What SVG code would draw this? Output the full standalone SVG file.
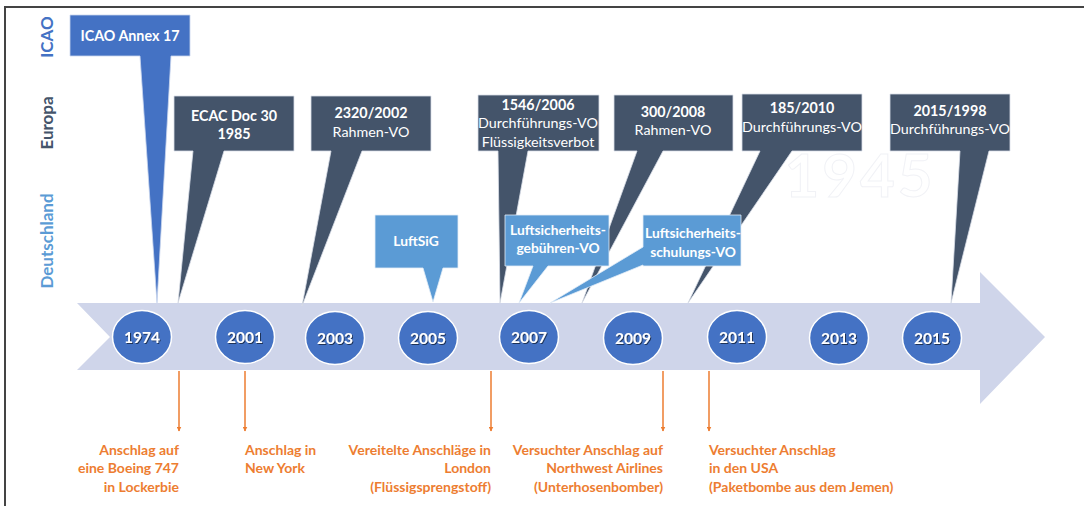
<svg xmlns="http://www.w3.org/2000/svg" width="1084" height="506" viewBox="0 0 1084 506">
<defs>
<style>
.f{font-family:Lato,"Open Sans","Liberation Sans",sans-serif}
.dark{fill:#44546A;stroke:#D9DEE8;stroke-width:0.8}
.icao{fill:#4472C4;stroke:#C9D6EE;stroke-width:0.8}
.light{fill:#5B9BD5;stroke:#E3EDF8;stroke-width:0.8}
.wt{fill:#fff;font-size:14.3px;text-anchor:middle}
.b{font-weight:700}
.lt{fill:#fff;font-size:13.8px;font-weight:700;text-anchor:middle}
.yr{fill:#fff;font-size:15.5px;font-weight:700;text-anchor:middle}
.circ{fill:#4472C4;stroke:#fff;stroke-width:1.5}
.or{fill:#ED7D31;font-size:14px;font-weight:700}
.con{stroke:#ED7D31;stroke-width:1.5;fill:none}
.side{font-size:17px;font-weight:700;text-anchor:middle}
</style>
<marker id="ah" viewBox="0 0 10 10" refX="9" refY="5" markerWidth="5" markerHeight="5" orient="auto" markerUnits="userSpaceOnUse">
<path d="M0,0 L10,5 L0,10 z" fill="#ED7D31"/>
</marker>
<filter id="sh" x="-20%" y="-20%" width="140%" height="140%">
<feDropShadow dx="1" dy="1" stdDeviation="0.7" flood-color="#000" flood-opacity="0.55"/>
</filter>
</defs>
<rect x="0" y="0" width="1084" height="506" fill="#fff"/>
<path d="M5,506 L5,7 L1084,7" fill="none" stroke="#444" stroke-width="2"/>

<text class="f" x="860" y="197" font-size="60" font-weight="700" text-anchor="middle" fill="#fff" stroke="#F1F2F6" stroke-width="1" letter-spacing="3">1945</text>

<g id="labels" class="f">
<text class="side" transform="translate(53,37) rotate(-90)" fill="#4472C4">ICAO</text>
<text class="side" transform="translate(53,123) rotate(-90)" fill="#44546A">Europa</text>
<text class="side" transform="translate(53,241) rotate(-90)" fill="#5B9BD5">Deutschland</text>
</g>

<g id="timeline">
<path d="M77,303 L980,303 L980,272 L1045,337 L980,404 L980,370 L77,370 L110,337 z" fill="#CFD5EA"/>
</g>

<g id="icao-annex17" class="f">
<path class="icao" d="M70,15 L190,15 L190,56 L171,56 L157,303 L140,56 L70,56 z"/>
<text class="wt b" x="130" y="41">ICAO Annex 17</text>
</g>
<g id="ecac-doc30" class="f">
<path class="dark" d="M174,96 L294,96 L294,151 L224,151 L178,303 L193,151 L174,151 z"/>
<text class="wt b" x="234" y="121">ECAC Doc 30</text>
<text class="wt b" x="234" y="139">1985</text>
</g>
<g id="vo-2320-2002" class="f">
<path class="dark" d="M311,96 L431,96 L431,151 L362,151 L302,306 L331,151 L311,151 z"/>
<text class="wt b" x="371" y="118">2320/2002</text>
<text class="wt" x="371" y="137">Rahmen-VO</text>
</g>
<g id="vo-1546-2006" class="f">
<path class="dark" d="M478,95 L599,95 L599,151 L528,151 L500,303 L498,151 L478,151 z"/>
<text class="wt b" x="538" y="110">1546/2006</text>
<text class="wt" x="538" y="128">Durchführungs-VO</text>
<text class="wt" x="538" y="147">Flüssigkeitsverbot</text>
</g>
<g id="vo-300-2008" class="f">
<path class="dark" d="M614,95 L733,95 L733,151 L663,151 L582,303 L637,151 L614,151 z"/>
<text class="wt b" x="673" y="117">300/2008</text>
<text class="wt" x="673" y="135">Rahmen-VO</text>
</g>
<g id="vo-185-2010" class="f">
<path class="dark" d="M742,94 L862,94 L862,151 L792,151 L688,303 L760,151 L742,151 z"/>
<text class="wt b" x="802" y="113">185/2010</text>
<text class="wt" x="802" y="132">Durchführungs-VO</text>
</g>
<g id="vo-2015-1998" class="f">
<path class="dark" d="M890,94 L1010,94 L1010,151 L989,151 L951,303 L960,151 L890,151 z"/>
<text class="wt b" x="950" y="116">2015/1998</text>
<text class="wt" x="950" y="134">Durchführungs-VO</text>
</g>
<g id="luftsig" class="f">
<path class="light" d="M375,215 L458,215 L458,268 L443,268 L433,302 L423,268 L375,268 z"/>
<text class="lt" x="416" y="246">LuftSiG</text>
</g>
<g id="lsgebuehren-vo" class="f">
<path class="light" d="M505,215 L609,215 L609,266 L548,266 L519,303 L533,266 L505,266 z"/>
<text class="lt" x="558" y="235">Luftsicherheits-</text>
<text class="lt" x="558" y="253">gebühren-VO</text>
</g>
<g id="lsschulungs-vo" class="f">
<path class="light" d="M643,215 L741,215 L741,266 L643,266 L643,265 L550,303 L643,247 z"/>
<text class="lt" x="693" y="238">Luftsicherheits-</text>
<text class="lt" x="693" y="257">schulungs-VO</text>
</g>

<g id="years" class="f">
<g id="y1974"><ellipse class="circ" cx="142" cy="337" rx="29.5" ry="26.5"/><text class="yr" x="142" y="343" filter="url(#sh)">1974</text></g>
<g id="y2001"><ellipse class="circ" cx="245" cy="337" rx="29.5" ry="26.5"/><text class="yr" x="245" y="343" filter="url(#sh)">2001</text></g>
<g id="y2003"><ellipse class="circ" cx="335" cy="338" rx="29.5" ry="26.5"/><text class="yr" x="335" y="344" filter="url(#sh)">2003</text></g>
<g id="y2005"><ellipse class="circ" cx="428" cy="338" rx="29.5" ry="26.5"/><text class="yr" x="428" y="344" filter="url(#sh)">2005</text></g>
<g id="y2007"><ellipse class="circ" cx="529" cy="337" rx="29.5" ry="26.5"/><text class="yr" x="529" y="343" filter="url(#sh)">2007</text></g>
<g id="y2009"><ellipse class="circ" cx="633" cy="338" rx="29.5" ry="26.5"/><text class="yr" x="633" y="344" filter="url(#sh)">2009</text></g>
<g id="y2011"><ellipse class="circ" cx="737" cy="337" rx="29.5" ry="26.5"/><text class="yr" x="737" y="343" filter="url(#sh)">2011</text></g>
<g id="y2013"><ellipse class="circ" cx="839" cy="338" rx="29.5" ry="26.5"/><text class="yr" x="839" y="344" filter="url(#sh)">2013</text></g>
<g id="y2015"><ellipse class="circ" cx="932" cy="338" rx="29.5" ry="26.5"/><text class="yr" x="932" y="344" filter="url(#sh)">2015</text></g>
</g>

<g id="connectors">
<line class="con" x1="179" y1="371" x2="179" y2="431" marker-end="url(#ah)"/>
<line class="con" x1="245" y1="371" x2="245" y2="431" marker-end="url(#ah)"/>
<line class="con" x1="491" y1="371" x2="491" y2="431" marker-end="url(#ah)"/>
<line class="con" x1="663" y1="371" x2="663" y2="431" marker-end="url(#ah)"/>
<line class="con" x1="709" y1="371" x2="709" y2="431" marker-end="url(#ah)"/>
</g>

<g id="event-lockerbie" class="f">
<text class="or" text-anchor="end" x="179" y="455">Anschlag auf</text>
<text class="or" text-anchor="end" x="179" y="473">eine Boeing 747</text>
<text class="or" text-anchor="end" x="179" y="492">in Lockerbie</text>
</g>
<g id="event-newyork" class="f">
<text class="or" x="245" y="455">Anschlag in</text>
<text class="or" x="245" y="473">New York</text>
</g>
<g id="event-london" class="f">
<text class="or" text-anchor="end" x="491" y="455">Vereitelte Anschläge in</text>
<text class="or" text-anchor="end" x="491" y="473">London</text>
<text class="or" text-anchor="end" x="491" y="492">(Flüssigsprengstoff)</text>
</g>
<g id="event-northwest" class="f">
<text class="or" text-anchor="end" x="663" y="455">Versuchter Anschlag auf</text>
<text class="or" text-anchor="end" x="663" y="473">Northwest Airlines</text>
<text class="or" text-anchor="end" x="663" y="492">(Unterhosenbomber)</text>
</g>
<g id="event-usa" class="f">
<text class="or" x="709" y="455">Versuchter Anschlag</text>
<text class="or" x="709" y="473">in den USA</text>
<text class="or" x="709" y="492">(Paketbombe aus dem Jemen)</text>
</g>
</svg>
